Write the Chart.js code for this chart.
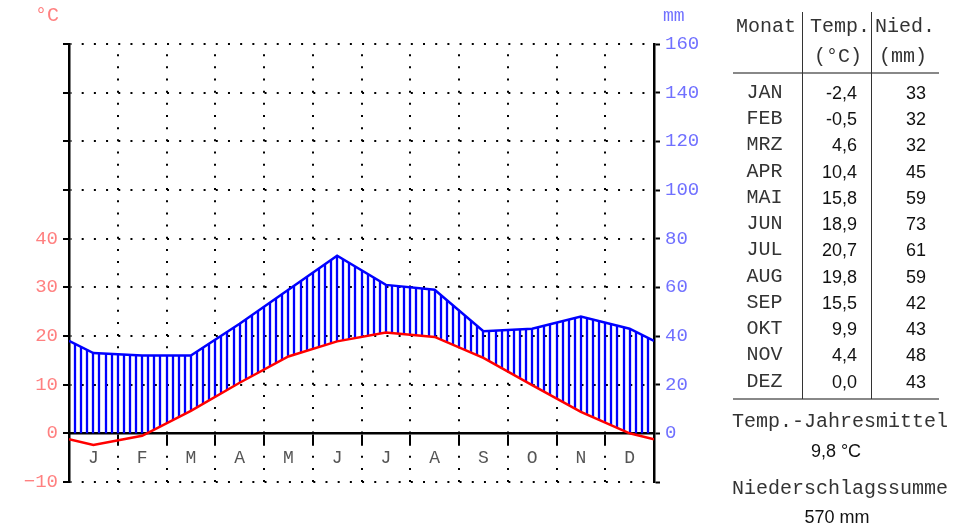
<!DOCTYPE html>
<html lang="de">
<head>
    <meta charset="UTF-8">
    <title>Klimadiagramm</title>
    <script src="https://cdn.jsdelivr.net/npm/chart.js"></script>
    <style>
        body {
            margin: 0;
            background: #fff;
        }

        #wrap {
            position: relative;
            width: 973px;
            height: 529px;
            overflow: hidden;
        }

        #chart {
            position: absolute;
            left: 0;
            top: 0;
        }

        .t {
            position: absolute;
            white-space: nowrap;
            line-height: 1;
        }

        .mono {
            font-family: 'Liberation Mono', 'Courier New', monospace;
            font-size: 20px;
            color: #333;
        }

        .sans {
            font-family: 'Liberation Sans', Arial, sans-serif;
            font-size: 18px;
            color: #111;
        }

        .c { transform: translate(-50%, -50%); }
        .r { transform: translate(-100%, -50%); }

        .line {
            position: absolute;
        }
    </style>
</head>
<body>
<div id="wrap">
    <canvas id="chart" width="720" height="529"></canvas>
    <div class="t mono" style="left:35px; top:16px; transform:translateY(-50%); color:#ff8080;">°C</div>
    <div class="t mono" style="left:663px; top:16px; transform:translateY(-50%); color:#7070ff; font-size:18px;">mm</div>
    <div id="table"></div>
</div>

<script>
    // Klimadaten
    const months = ['JAN', 'FEB', 'MRZ', 'APR', 'MAI', 'JUN', 'JUL', 'AUG', 'SEP', 'OKT', 'NOV', 'DEZ'];
    const monthLetters = ['J', 'F', 'M', 'A', 'M', 'J', 'J', 'A', 'S', 'O', 'N', 'D'];
    const temperature = [-2.4, -0.5, 4.6, 10.4, 15.8, 18.9, 20.7, 19.8, 15.5, 9.9, 4.4, 0.0];
    const precipitation = [33, 32, 32, 45, 59, 73, 61, 59, 42, 43, 48, 43];
    // values at the year boundary (left/right edge of the plot)
    const edgeTemperature = -1.2;
    const edgePrecipitation = 38;
    const tempLabelMax = 40;

    const fmt = v => v.toFixed(1).replace('.', ',');

    function series(values, edge) {
        const pts = [{x: 0, y: edge}];
        values.forEach((v, i) => pts.push({x: i + 0.5, y: v}));
        pts.push({x: 12, y: edge});
        return pts;
    }

    function interp(pts, x) {
        for (let i = 1; i < pts.length; i++) {
            if (x <= pts[i].x) {
                const a = pts[i - 1], b = pts[i];
                return a.y + (b.y - a.y) * (x - a.x) / (b.x - a.x);
            }
        }
        return pts[pts.length - 1].y;
    }

    // vertical blue hatching between precipitation and temperature (not below 0)
    const hatchPlugin = {
        id: 'hatch',
        beforeDatasetsDraw(chart) {
            const {ctx, chartArea} = chart;
            const t = chart.getDatasetMeta(0).data;
            const p = chart.getDatasetMeta(1).data;
            const zeroY = chart.scales.y.getPixelForValue(0);
            const n = 96;
            const step = (chartArea.right - chartArea.left) / n;
            ctx.save();
            ctx.strokeStyle = '#0000ff';
            ctx.lineWidth = 2.3;
            ctx.beginPath();
            for (let k = 1; k < n; k++) {
                const x = Math.round(chartArea.left + k * step);
                const yp = interp(p, x);
                const yt = Math.min(interp(t, x), zeroY);
                if (yt > yp) {
                    ctx.moveTo(x, yp);
                    ctx.lineTo(x, yt);
                }
            }
            ctx.stroke();
            ctx.restore();
        }
    };

    new Chart(document.getElementById('chart'), {
        type: 'line',
        data: {
            datasets: [{
                label: 'Temperatur',
                data: series(temperature, edgeTemperature),
                yAxisID: 'y',
                borderColor: '#ff0000',
                borderWidth: 2.5,
                pointRadius: 0,
                tension: 0
            }, {
                label: 'Niederschlag',
                data: series(precipitation, edgePrecipitation),
                yAxisID: 'y2',
                borderColor: '#0000ff',
                borderWidth: 2.5,
                pointRadius: 0,
                tension: 0
            }]
        },
        options: {
            responsive: false,
            animation: false,
            layout: {padding: {top: 44, bottom: 47, left: 0, right: 0}},
            plugins: {legend: {display: false}, tooltip: {enabled: false}},
            scales: {
                x: {
                    type: 'linear',
                    min: 0,
                    max: 12,
                    position: {y: 0},
                    border: {color: '#000', width: 2.5, dash: [2, 10.17], dashOffset: 2},
                    grid: {
                        color: '#000',
                        lineWidth: 2,
                        tickLength: 11,
                        tickColor: '#000',
                        tickWidth: 2,
                        tickBorderDash: []
                    },
                    ticks: {
                        stepSize: 1,
                        autoSkip: false,
                        maxRotation: 0,
                        labelOffset: 24.4,
                        padding: 3,
                        color: '#555',
                        font: {family: 'Liberation Mono', size: 18},
                        callback: v => monthLetters[v] ?? ''
                    }
                },
                y: {
                    position: 'left',
                    min: -10,
                    max: 80,
                    afterFit: s => { s.width = 69; },
                    border: {color: '#000', width: 2.5, dash: [2, 10.19], dashOffset: 1},
                    grid: {
                        color: '#000',
                        lineWidth: 2,
                        tickLength: 6,
                        tickColor: '#000',
                        tickWidth: 2,
                        tickBorderDash: []
                    },
                    ticks: {
                        stepSize: 10,
                        padding: 5,
                        color: '#ff8080',
                        font: {family: 'Liberation Mono', size: 19},
                        callback: v => v <= tempLabelMax ? (v < 0 ? '\u2212' + Math.abs(v) : String(v)) : ''
                    }
                },
                y2: {
                    position: 'right',
                    min: -20,
                    max: 160,
                    afterFit: s => { s.width = 66; },
                    border: {color: '#000', width: 2.5},
                    grid: {
                        drawOnChartArea: false,
                        tickLength: 6,
                        tickColor: '#000',
                        tickWidth: 2
                    },
                    ticks: {
                        stepSize: 20,
                        padding: 5,
                        color: '#7070ff',
                        font: {family: 'Liberation Mono', size: 19},
                        callback: v => v >= 0 ? String(v) : ''
                    }
                }
            }
        },
        plugins: [hatchPlugin]
    });

    // Tabelle rechts
    const table = document.getElementById('table');

    function text(str, cls, x, y) {
        const d = document.createElement('div');
        d.className = 't ' + cls;
        d.textContent = str;
        d.style.left = x + 'px';
        d.style.top = y + 'px';
        table.appendChild(d);
    }

    function line(x, y, w, h, color) {
        const d = document.createElement('div');
        d.className = 'line';
        d.style.cssText = `left:${x}px;top:${y}px;width:${w}px;height:${h}px;background:${color};`;
        table.appendChild(d);
    }

    text('Monat', 'mono c', 766, 27);
    text('Temp.', 'mono c', 840, 27);
    text('Nied.', 'mono c', 905, 27);
    text('(°C)', 'mono c', 838, 57);
    text('(mm)', 'mono c', 903, 57);

    months.forEach((m, i) => {
        const y = 92.7 + i * 26.27;
        text(m, 'mono c', 764.5, y);
        text(fmt(temperature[i]), 'sans r', 857, y);
        text(String(precipitation[i]), 'sans r', 926, y);
    });

    line(733, 72, 206, 2, '#888');
    line(733, 398, 206, 2, '#888');
    line(802, 12, 1, 387, '#333');
    line(871, 12, 1, 387, '#333');

    const total = precipitation.reduce((a, b) => a + b, 0);
    const mean = temperature.reduce((a, b) => a + b, 0) / temperature.length;

    text('Temp.-Jahresmittel', 'mono c', 840, 422);
    text(fmt(mean) + ' °C', 'sans c', 836, 451);
    text('Niederschlagssumme', 'mono c', 840, 489);
    text(total + ' mm', 'sans c', 837, 517);
</script>
</body>
</html>
